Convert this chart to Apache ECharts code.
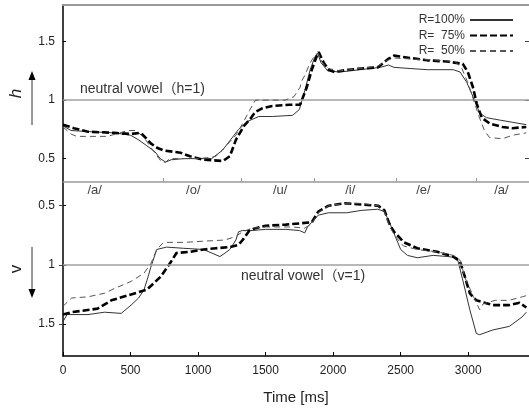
<!DOCTYPE html>
<html>
<head>
<meta charset="utf-8">
<script src="https://cdn.jsdelivr.net/npm/echarts@6/dist/echarts.min.js"></script>
<style>
  html, body { margin: 0; padding: 0; background: #fff; }
  #chart { width: 529px; height: 408px; }
</style>
</head>
<body>
<div id="chart"></div>
<script>
// time [ms] / value pairs
const hSolid = [[0,0.78],[60,0.74],[200,0.73],[380,0.72],[500,0.70],[560,0.66],[620,0.61],[680,0.56],[720,0.50],[760,0.47],[800,0.49],[900,0.50],[1000,0.50],[1100,0.50],[1180,0.57],[1240,0.66],[1300,0.75],[1370,0.82],[1450,0.86],[1550,0.86],[1700,0.87],[1750,0.92],[1790,1.08],[1830,1.26],[1865,1.37],[1885,1.40],[1910,1.32],[1960,1.25],[2050,1.24],[2200,1.26],[2350,1.28],[2410,1.30],[2450,1.28],[2570,1.27],[2700,1.26],[2890,1.26],[2940,1.24],[2990,1.15],[3035,1.03],[3085,0.89],[3135,0.85],[3230,0.83],[3330,0.81],[3430,0.79]];
const hThick = [[0,0.79],[80,0.76],[185,0.73],[380,0.72],[500,0.71],[575,0.72],[610,0.68],[650,0.63],[700,0.59],[745,0.57],[870,0.55],[940,0.52],[1040,0.49],[1185,0.48],[1235,0.52],[1280,0.66],[1340,0.78],[1380,0.83],[1425,0.90],[1475,0.93],[1550,0.95],[1675,0.96],[1755,0.96],[1805,1.11],[1842,1.26],[1880,1.38],[1893,1.41],[1930,1.32],[1966,1.26],[2010,1.24],[2113,1.26],[2208,1.27],[2332,1.28],[2405,1.35],[2450,1.38],[2573,1.36],[2697,1.34],[2843,1.33],[2960,1.31],[2997,1.24],[3035,1.11],[3063,0.97],[3100,0.85],[3158,0.80],[3253,0.77],[3326,0.76],[3430,0.77]];
const hDashed = [[0,0.77],[60,0.71],[100,0.69],[330,0.69],[420,0.72],[480,0.74],[540,0.74],[600,0.68],[660,0.58],[730,0.47],[760,0.47],[790,0.50],[1000,0.50],[1090,0.51],[1133,0.52],[1200,0.60],[1280,0.70],[1330,0.80],[1380,0.91],[1425,1.00],[1500,1.00],[1645,1.00],[1710,1.03],[1755,1.11],[1770,1.17],[1790,1.21],[1830,1.32],[1870,1.39],[1890,1.40],[1920,1.32],[1966,1.27],[2050,1.25],[2200,1.27],[2330,1.29],[2400,1.34],[2450,1.36],[2600,1.35],[2800,1.34],[2900,1.33],[2950,1.28],[3000,1.14],[3040,1.00],[3080,0.86],[3120,0.74],[3158,0.68],[3253,0.67],[3330,0.70],[3430,0.72]];

const vSolid = [[0,1.48],[30,1.42],[185,1.42],[307,1.40],[431,1.41],[504,1.34],[560,1.28],[600,1.21],[630,1.10],[650,1.02],[694,0.87],[767,0.85],[892,0.86],[1040,0.87],[1162,0.93],[1200,0.90],[1235,0.87],[1280,0.79],[1300,0.72],[1330,0.71],[1400,0.71],[1500,0.70],[1650,0.70],[1750,0.71],[1790,0.73],[1810,0.68],[1842,0.64],[1890,0.58],[1966,0.56],[2100,0.56],[2208,0.54],[2330,0.53],[2380,0.55],[2420,0.65],[2460,0.76],[2500,0.87],[2550,0.92],[2623,0.94],[2740,0.92],[2850,0.93],[2918,0.94],[2960,1.13],[3012,1.38],[3060,1.58],[3085,1.59],[3182,1.55],[3304,1.52],[3399,1.44],[3430,1.40]];
const vThick = [[0,1.42],[64,1.40],[256,1.37],[358,1.30],[504,1.25],[621,1.21],[723,1.10],[796,0.98],[840,0.90],[943,0.89],[1040,0.87],[1133,0.86],[1235,0.85],[1300,0.83],[1330,0.79],[1380,0.71],[1425,0.69],[1500,0.67],[1650,0.66],[1750,0.65],[1842,0.64],[1890,0.55],[1966,0.50],[2087,0.48],[2208,0.49],[2332,0.50],[2380,0.54],[2415,0.65],[2450,0.72],[2525,0.81],[2623,0.86],[2770,0.89],[2890,0.93],[2939,0.97],[2975,1.10],[3012,1.24],[3060,1.30],[3182,1.34],[3304,1.34],[3380,1.32],[3430,1.36]];
const vDashed = [[0,1.35],[64,1.28],[185,1.27],[307,1.24],[380,1.20],[504,1.14],[600,1.07],[650,0.99],[694,0.87],[745,0.81],[900,0.81],[1040,0.80],[1200,0.79],[1280,0.76],[1330,0.72],[1400,0.69],[1500,0.68],[1700,0.68],[1790,0.69],[1842,0.65],[1890,0.56],[1966,0.50],[2087,0.48],[2208,0.48],[2332,0.50],[2380,0.55],[2420,0.68],[2460,0.76],[2520,0.84],[2620,0.87],[2770,0.89],[2890,0.92],[2939,0.96],[2980,1.12],[3040,1.27],[3085,1.38],[3110,1.33],[3200,1.30],[3300,1.30],[3400,1.27],[3430,1.26]];

const seriesNames = ['R=100%', 'R=  75%', 'R=  50%'];
const phonemeLabels = ['/a/', '/o/', '/u/', '/i/', '/e/', '/a/'];
const phonemeCenters = [234, 965, 1608, 2127, 2668, 3246];
const phonemeBounds = [745, 1316, 1862, 2468, 3056];
const timeTicks = [0, 500, 1000, 1500, 2000, 2500, 3000];
const yTicks = [0.5, 1, 1.5];

const FONT = 'Arial, "Liberation Sans", "Noto Sans CJK JP", sans-serif';
const chart = echarts.init(document.getElementById('chart'), null, { renderer: 'canvas' });

const lineStyles = [
  { color: '#333', width: 1, type: 'solid' },
  { color: '#000', width: 2.6, type: [7, 3] },
  { color: '#555', width: 1, type: [6, 4] },
];

function makeSeries(data, idx, xAxisIndex, yAxisIndex, markText, markPos, markDist) {
  const s = {
    name: seriesNames[idx],
    type: 'line',
    xAxisIndex, yAxisIndex,
    data,
    symbol: 'none',
    showSymbol: false,
    lineStyle: lineStyles[idx],
    itemStyle: { color: lineStyles[idx].color },
    z: 3 + idx,
    animation: false,
  };
  if (markText) {
    s.markLine = {
      silent: true,
      symbol: 'none',
      animation: false,
      lineStyle: { color: '#a0a0a0', width: 1.5, type: 'solid' },
      label: {
        show: true,
        position: markPos,
        distance: markDist,
        formatter: markText,
        color: '#333',
        fontSize: 14,
        fontFamily: FONT,
      },
      data: [{ yAxis: 1 }],
    };
  }
  return s;
}

const yLeft = (gridIndex, inverse, name, italic) => ({
  type: 'value', gridIndex, inverse,
  min: 0.3, max: gridIndex === 0 ? 1.813 : 1.77,
  name, nameLocation: 'middle', nameRotate: 90, nameGap: 38,
  nameTextStyle: { fontSize: 17, fontStyle: italic ? 'italic' : 'normal', color: '#222', fontFamily: FONT },
  axisLine: { show: true, lineStyle: { color: '#000', width: 1.5 } },
  axisTick: { show: true, inside: true, length: 3, customValues: yTicks, lineStyle: { color: '#000' } },
  axisLabel: { show: true, customValues: yTicks, margin: 8, fontSize: 12, color: '#222', fontFamily: FONT,
    formatter: (v) => String(v) },
  splitLine: { show: false },
});

const yRight = (gridIndex, inverse) => ({
  type: 'value', gridIndex, inverse, position: 'right',
  min: 0.3, max: gridIndex === 0 ? 1.813 : 1.77,
  axisLine: { show: false },
  axisTick: { show: true, inside: true, length: 4, customValues: yTicks, lineStyle: { color: '#444' } },
  axisLabel: { show: false },
  splitLine: { show: false },
});

const option = {
  backgroundColor: '#fff',
  animation: false,
  grid: [
    { left: 58, top: 5, width: 472, height: 177 },
    { left: 58, top: 182, width: 472, height: 174 },
  ],
  legend: {
    data: seriesNames,
    orient: 'vertical',
    right: 10, top: 9,
    align: 'right',
    itemWidth: 43, itemHeight: 12, itemGap: 3.5,
    selectedMode: false,
    itemStyle: { opacity: 0 },
    textStyle: { fontSize: 12, color: '#333', fontFamily: FONT },
  },
  xAxis: [
    {
      type: 'value', gridIndex: 0, min: 0, max: 3450, position: 'top',
      axisLine: { show: true, lineStyle: { color: '#999', width: 2 } },
      axisTick: { show: false }, axisLabel: { show: false }, splitLine: { show: false },
    },
    {
      type: 'value', gridIndex: 1, min: 0, max: 3450, position: 'bottom',
      name: 'Time [ms]', nameLocation: 'middle', nameGap: 34,
      nameTextStyle: { fontSize: 15, color: '#222', fontFamily: FONT },
      axisLine: { show: true, lineStyle: { color: '#000', width: 1.5 } },
      axisTick: { show: true, inside: true, length: 4, customValues: timeTicks, lineStyle: { color: '#000' } },
      axisLabel: { show: true, customValues: timeTicks, margin: 9, fontSize: 12, color: '#222', fontFamily: FONT,
        formatter: (v) => String(v) },
      splitLine: { show: false },
    },
    {
      type: 'value', gridIndex: 1, min: 0, max: 3450, position: 'top',
      axisLine: { show: true, lineStyle: { color: '#999', width: 1.5 } },
      axisTick: { show: true, inside: false, length: 4, customValues: phonemeBounds, lineStyle: { color: '#999' } },
      axisLabel: {
        show: true, inside: true, customValues: phonemeCenters, margin: 2,
        fontSize: 13, color: '#444', fontFamily: FONT,
        formatter: (v) => phonemeLabels[phonemeCenters.indexOf(v)] || '',
      },
      splitLine: { show: false },
    },
  ],
  yAxis: [
    yLeft(0, false, 'h', true),
    yLeft(1, true, 'v', false),
    yRight(0, false),
    yRight(1, true),
  ],
  graphic: [
    { type: 'line', shape: { x1: 32, y1: 125, x2: 32, y2: 79 }, style: { stroke: '#333', lineWidth: 1 } },
    { type: 'polygon', shape: { points: [[32, 71], [28.5, 80], [35.5, 80]] }, style: { fill: '#000' } },
    { type: 'line', shape: { x1: 32, y1: 247, x2: 32, y2: 290 }, style: { stroke: '#333', lineWidth: 1 } },
    { type: 'polygon', shape: { points: [[32, 298], [28.5, 289], [35.5, 289]] }, style: { fill: '#000' } },
  ],
  series: [
    makeSeries(hSolid, 0, 0, 0, 'neutral vowel（h=1)', 'insideStartTop', [17, 4]),
    makeSeries(hThick, 1, 0, 0),
    makeSeries(hDashed, 2, 0, 0),
    makeSeries(vSolid, 0, 1, 1, 'neutral vowel（v=1)', 'insideStartBottom', [178, 4]),
    makeSeries(vThick, 1, 1, 1),
    makeSeries(vDashed, 2, 1, 1),
  ],
};

chart.setOption(option);
</script>
</body>
</html>
